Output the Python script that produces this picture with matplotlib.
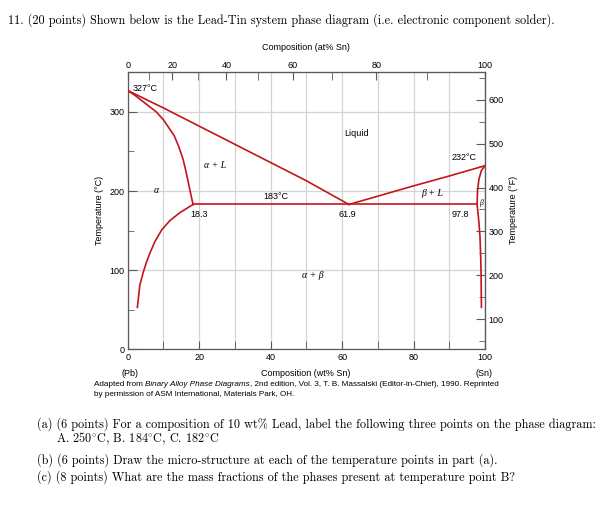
import matplotlib
matplotlib.use("Agg")
import matplotlib.pyplot as plt
import numpy as np

# ---- data (wt% Sn, temperature in degC) ----
liquidus_left_x = [0, 10, 20, 30, 40, 50, 61.9]
liquidus_left_t = [327, 305, 282, 259, 236, 213, 183]
liquidus_right_x = [61.9, 70, 80, 90, 100]
liquidus_right_t = [183, 193.5, 206.5, 219, 232]
solidus_a_x = [0, 2, 4, 6, 8, 10, 11.5, 13, 14.3, 15.5, 16.3, 17, 17.6, 18.3]
solidus_a_t = [327, 321, 314, 307, 300, 290, 280, 270, 256, 240, 225, 210, 197, 183]
solvus_a_x = [18.3, 14.6, 11.8, 9.5, 7.6, 6.2, 5.3, 4.4, 3.4, 2.7]
solvus_a_t = [183, 172.7, 162.6, 150.8, 136, 121.4, 110.7, 98, 81.3, 53]
solidus_b_x = [100, 99.0, 98.3, 97.9, 97.8]
solidus_b_t = [232, 226, 215, 200, 183]
solvus_b_x = [97.8, 98.3, 98.6, 98.8, 98.9, 99.0]
solvus_b_t = [183, 160, 142, 115, 95, 53]
eutectic_x = [18.3, 97.8]
eutectic_t = [183, 183]

wt_ticks = [0, 20, 40, 60, 80, 100]
at_ticks = [0, 20, 40, 60, 80, 100]
degc_ticks = [0, 100, 200, 300]
degf_ticks = [100, 200, 300, 400, 500, 600]

M_SN, M_PB = 118.71, 207.2


def wt_to_at(w):
    w = np.clip(np.asarray(w, float), 0, 100)
    return 100 * (w / M_SN) / (w / M_SN + (100 - w) / M_PB)


def at_to_wt(a):
    a = np.clip(np.asarray(a, float), 0, 100)
    return 100 * a * M_SN / (a * M_SN + (100 - a) * M_PB)


def c_to_f(c):
    return np.asarray(c, float) * 9 / 5 + 32


def f_to_c(f):
    return (np.asarray(f, float) - 32) * 5 / 9


RED = '#c3161c'
GRAY = '#5a5a5a'
SANS = ['Liberation Sans', 'DejaVu Sans']
SERIF = ['cmr10', 'DejaVu Serif']
plt.rcParams['font.family'] = SANS
plt.rcParams['axes.unicode_minus'] = False
plt.rcParams['mathtext.fontset'] = 'cm'

fig = plt.figure(figsize=(6.09, 5.05), dpi=100)
ax = fig.add_axes([0.2097, 0.3083, 0.5867, 0.5485])
ax.set_xlim(0, 100)
ax.set_ylim(0, 350)

curves = [(liquidus_left_x, liquidus_left_t), (liquidus_right_x, liquidus_right_t),
          (solidus_a_x, solidus_a_t), (solvus_a_x, solvus_a_t),
          (solidus_b_x, solidus_b_t), (solvus_b_x, solvus_b_t),
          (eutectic_x, eutectic_t)]
for cx, ct in curves:
    ax.plot(cx, ct, color=RED, lw=1.2, solid_joinstyle='round', zorder=3)

# axes styling
for s in ax.spines.values():
    s.set_color(GRAY)
    s.set_linewidth(0.9)
ax.set_xticks(wt_ticks)
ax.set_xticks([10, 30, 50, 70, 90], minor=True)
ax.set_yticks(degc_ticks)
ax.set_yticks([50, 150, 250], minor=True)
ax.grid(axis='x', which='both', color='#d4d4d4', lw=0.9)
ax.grid(axis='y', which='major', color='#d4d4d4', lw=0.9)
ax.tick_params(which='both', direction='in', color=GRAY, labelsize=6.5, pad=2.5)
ax.tick_params(axis='y', which='major', length=6.5)
ax.tick_params(axis='y', which='minor', length=4.5)
ax.tick_params(axis='x', which='both', length=6)

top = ax.secondary_xaxis('top', functions=(wt_to_at, at_to_wt))
top.set_xticks(at_ticks)
top.set_xticks([10, 30, 50, 70, 90], minor=True)
top.tick_params(which='both', direction='in', length=6, color=GRAY, labelsize=6.5, pad=2)
top.spines['top'].set_color(GRAY)

right = ax.secondary_yaxis('right', functions=(c_to_f, f_to_c))
right.set_yticks(degf_ticks)
right.set_yticks([50, 150, 250, 350, 450, 550, 650], minor=True)
right.tick_params(which='major', direction='in', length=6.5, color=GRAY, labelsize=6.5, pad=2.5)
right.tick_params(which='minor', direction='in', length=4, color=GRAY)
right.spines['right'].set_color(GRAY)

# region / point labels
fs = 6.5
ax.text(1.4, 330, '327°C', fontsize=fs, ha='left', va='center')
ax.text(64.1, 273, 'Liquid', fontsize=fs, ha='center', va='center')
ax.text(94.1, 242.7, '232°C', fontsize=fs, ha='center', va='center')
ax.text(41.5, 193, '183°C', fontsize=fs, ha='center', va='center')
ax.text(20.0, 169.8, '18.3', fontsize=fs, ha='center', va='center')
ax.text(61.5, 169.8, '61.9', fontsize=fs, ha='center', va='center')
ax.text(93.0, 169.8, '97.8', fontsize=fs, ha='center', va='center')
GREEK = dict(fontsize=7, family=['Liberation Serif', 'DejaVu Serif'], style='italic',
             ha='center', va='center')
ax.text(24.4, 231.7, 'α + L', **GREEK)
ax.text(8.1, 200.5, 'α', **GREEK)
ax.text(85.1, 197.2, 'β + L', **GREEK)
ax.text(51.9, 92.7, 'α + β', **GREEK)
ax.text(98.9, 184.6, 'β', fontsize=5.5, family=['Liberation Serif'], style='italic',
        ha='center', va='center')

# axis titles
fig.text(306 / 609, 1 - 47 / 505, 'Composition (at% Sn)', fontsize=6.5, ha='center', va='center')
fig.text(99 / 609, 1 - 210 / 505, 'Temperature (°C)', fontsize=6.5, rotation=90,
         ha='center', va='center')
fig.text(514 / 609, 1 - 210 / 505, 'Temperature (°F)', fontsize=6.5, rotation=90,
         ha='center', va='center')
fig.text(130 / 609, 1 - 374 / 505, '(Pb)', fontsize=6.5, ha='center', va='center')
fig.text(306 / 609, 1 - 374 / 505, 'Composition (wt% Sn)', fontsize=6.5, ha='center', va='center')
fig.text(484 / 609, 1 - 374 / 505, '(Sn)', fontsize=6.5, ha='center', va='center')

# caption, with the book title in italics
cap = [('Adapted from ', 'normal'), ('Binary Alloy Phase Diagrams', 'italic'),
       (', 2nd edition, Vol. 3, T. B. Massalski (Editor-in-Chief), 1990. Reprinted', 'normal')]
r = fig.canvas.get_renderer()
xpos = 94
for s, st in cap:
    t = fig.text(xpos / 609, 1 - 385 / 505, s, fontsize=5.9, style=st, ha='left', va='center')
    xpos += t.get_window_extent(r).width
fig.text(94 / 609, 1 - 395 / 505, 'by permission of ASM International, Materials Park, OH.',
         fontsize=5.9, ha='left', va='center')

# question text
QS = dict(fontsize=8.8, family=SERIF, ha='left', va='center')
fig.text(8 / 609, 1 - 20 / 505,
         '11. (20 points) Shown below is the Lead-Tin system phase diagram '
         '(i.e. electronic component solder).', **QS)
fig.text(37 / 609, 1 - 424 / 505,
         '(a) (6 points) For a composition of 10 wt% Lead, label the following three '
         'points on the phase diagram:', **QS)
fig.text(56 / 609, 1 - 439 / 505,
         r'A. 250$^{\circ}\mathrm{C}$, B. 184$^{\circ}\mathrm{C}$, C. 182$^{\circ}\mathrm{C}$',
         **QS)
fig.text(37 / 609, 1 - 460 / 505,
         '(b) (6 points) Draw the micro-structure at each of the temperature points in part (a).',
         **QS)
fig.text(37 / 609, 1 - 477 / 505,
         '(c) (8 points) What are the mass fractions of the phases present at temperature point B?',
         **QS)

fig.savefig('out.png', dpi=100)
